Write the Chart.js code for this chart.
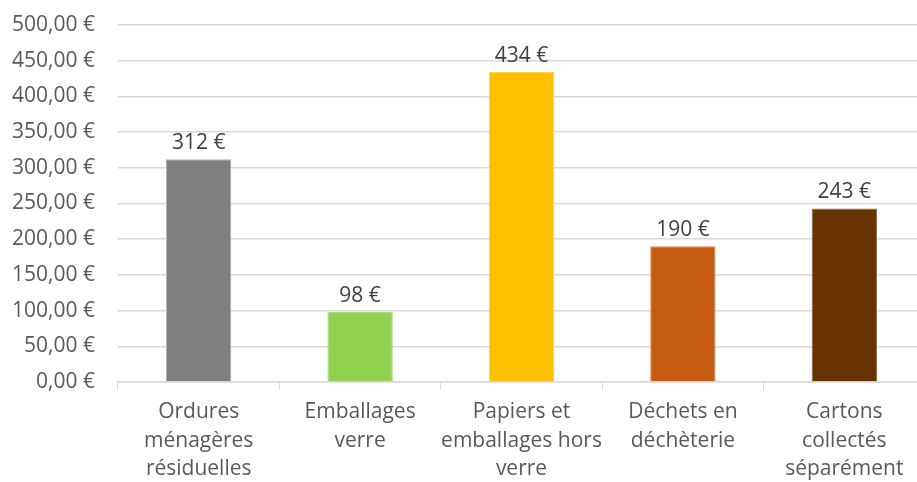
<!DOCTYPE html>
<html>
<head>
<meta charset="utf-8">
<script src="https://cdn.jsdelivr.net/npm/chart.js@4/dist/chart.umd.min.js"></script>
<style>
  html, body { margin: 0; padding: 0; background: #fff; overflow: hidden; }
  #wrap { width: 925px; height: 482px; }
</style>
</head>
<body>
<div id="wrap"><canvas id="myChart"></canvas></div>
<script>
// data
var categories = [
  ["Ordures", "ménagères", "résiduelles"],
  ["Emballages", "verre"],
  ["Papiers et", "emballages hors", "verre"],
  ["Déchets en", "déchèterie"],
  ["Cartons", "collectés", "séparément"]
];
var costs = [312, 98, 434, 190, 243];
var barColors = ["#7f7f7f", "#92d050", "#ffc000", "#c55a11", "#663300"];
var yMin = 0, yMax = 500, yStep = 50;

// draws "312 €" etc above each bar
var valueLabels = {
  id: "valueLabels",
  afterDatasetsDraw: function (chart) {
    var ctx = chart.ctx;
    var meta = chart.getDatasetMeta(0);
    ctx.save();
    ctx.font = "21px 'Open Sans'";
    ctx.fillStyle = "#404040";
    ctx.textAlign = "center";
    ctx.textBaseline = "alphabetic";
    meta.data.forEach(function (bar, i) {
      ctx.fillText(costs[i] + " €", bar.x, bar.y - 10);
    });
    ctx.restore();
  }
};

var ctx = document.getElementById("myChart").getContext("2d");
new Chart(ctx, {
  type: "bar",
  data: {
    labels: categories,
    datasets: [{
      data: costs,
      backgroundColor: barColors,
      borderColor: ["#b0b0b0", "#a8da78", "#ffd04d", "#d58a55", "#8a6a48"],
      borderWidth: 1,
      categoryPercentage: 1,
      barPercentage: 0.405
    }]
  },
  options: {
    responsive: true,
    maintainAspectRatio: false,
    animation: false,
    layout: { padding: { top: 25, right: 0, bottom: 0, left: 0 } },
    plugins: { legend: { display: false }, tooltip: { enabled: false } },
    scales: {
      x: {
        grid: { display: true, drawOnChartArea: false, drawTicks: true, tickLength: 8, color: "#d9d9d9", offset: true },
        border: { color: "#d9d9d9", width: 1.5 },
        ticks: {
          color: "#595959",
          font: { family: "'Open Sans'", size: 21, lineHeight: 1.35 },
          padding: 8,
          maxRotation: 0,
          autoSkip: false
        },
        afterFit: function (scale) { scale.height = 100; }
      },
      y: {
        min: yMin,
        max: yMax,
        grid: { color: "#d9d9d9", lineWidth: 1.5, drawTicks: true, tickLength: 23, tickColor: "rgba(0,0,0,0)" },
        border: { display: false },
        ticks: {
          stepSize: yStep,
          color: "#595959",
          padding: 0,
          font: { family: "'Open Sans'", size: 21 },
          callback: function (v) { return v.toFixed(2).replace(".", ",") + " €"; }
        },
        afterFit: function (scale) { scale.width = 118; }
      }
    }
  },
  plugins: [valueLabels]
});
</script>
</body>
</html>
